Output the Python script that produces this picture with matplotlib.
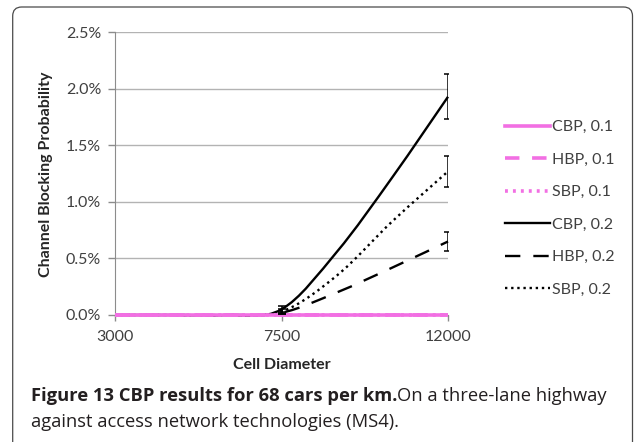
import numpy as np
import matplotlib
matplotlib.use('Agg')
import matplotlib.pyplot as plt
from matplotlib.path import Path
from matplotlib.patches import PathPatch, FancyBboxPatch
from matplotlib.lines import Line2D
from matplotlib.transforms import IdentityTransform

plt.rcParams['font.family'] = ['Lato', 'DejaVu Sans']

# blocking probability (%) against cell diameter
diameter = [3000, 4500, 6000, 7500, 9000, 10500, 12000]
cbp_01 = [0, 0, 0, 0, 0, 0, 0]
hbp_01 = [0, 0, 0, 0, 0, 0, 0]
sbp_01 = [0, 0, 0, 0, 0, 0, 0]
cbp_02 = [0, 0, 0, 0.05, 0.56, 1.22, 1.93]
hbp_02 = [0, 0, 0, 0.02, 0.20, 0.42, 0.65]
sbp_02 = [0, 0, 0, 0.03, 0.35, 0.83, 1.27]

# error bars on the 0.2 series
err_x = [7500, 12000]
cbp_02_err = [0.03, 0.20]
hbp_02_err = [0.01, 0.08]
sbp_02_err = [0.02, 0.14]

y_ticks = [0.0, 0.5, 1.0, 1.5, 2.0, 2.5]
x_ticks = [3000, 7500, 12000]

PINK = '#f26fe3'
GRID = '#b3b3b3'


def smooth_path(x, y):
    ''' Catmull-Rom style bezier through the points, like a smoothed line'''
    pts = np.column_stack([x, y]).astype(float)
    verts = [pts[0]]
    codes = [Path.MOVETO]
    for i in range(len(pts) - 1):
        p0 = pts[i - 1] if i > 0 else pts[i]
        p3 = pts[i + 2] if i + 2 < len(pts) else pts[i + 1]
        verts += [pts[i] + (pts[i + 1] - p0) / 6,
                  pts[i + 1] - (p3 - pts[i]) / 6,
                  pts[i + 1]]
        codes += [Path.CURVE4] * 3
    return Path(verts, codes)


fig = plt.figure(figsize=(6.34, 4.42), dpi=100)
ax = fig.add_axes([115 / 634, 1 - 315 / 442, 333 / 634, (315 - 32.3) / 442])

series = [
    ('CBP, 0.1', cbp_01, PINK, '-', 2.6),
    ('HBP, 0.1', hbp_01, PINK, (0, (4, 3.5)), 2.6),
    ('SBP, 0.1', sbp_01, PINK, (0, (0.8, 1.4)), 2.6),
    ('CBP, 0.2', cbp_02, 'black', '-', 1.7),
    ('HBP, 0.2', hbp_02, 'black', (0, (6.5, 5.5)), 1.7),
    ('SBP, 0.2', sbp_02, 'black', (0, (1, 1.6)), 1.7),
]

handles = []
for i, (lab, vals, col, ls, lw) in enumerate(series):
    z = 4 if col == PINK else 3
    if lab == 'CBP, 0.1':
        z = 5
    ax.add_patch(PathPatch(smooth_path(diameter, vals), fill=False, edgecolor=col,
                           linestyle=ls, linewidth=lw, zorder=z, clip_on=False,
                           capstyle='butt'))
    handles.append(Line2D([], [], color=col, linestyle=ls, linewidth=lw, label=lab))

for vals, err in [(cbp_02, cbp_02_err), (hbp_02, hbp_02_err), (sbp_02, sbp_02_err)]:
    yv = [vals[diameter.index(v)] for v in err_x]
    ax.errorbar(err_x, yv, yerr=err, fmt='none', ecolor='black', elinewidth=1.1,
                capsize=3, capthick=1.1, zorder=6)

ax.set_xlim(3000, 12000)
ax.set_ylim(0, 2.5)
ax.set_xticks(x_ticks)
ax.set_xticklabels([str(v) for v in x_ticks])
ax.set_yticks(y_ticks)
ax.set_yticklabels(['%.1f%%' % v for v in y_ticks])
ax.grid(axis='y', color=GRID, linewidth=1.0, zorder=0)
ax.set_axisbelow(True)
for s in ['top', 'right']:
    ax.spines[s].set_visible(False)
ax.spines['left'].set_color('#8c8c8c')
ax.spines['bottom'].set_color('#8c8c8c')
ax.tick_params(axis='y', length=5, width=1, color='#8c8c8c', pad=5,
               labelsize=11.5, labelcolor='#404040')
ax.tick_params(axis='x', length=4, width=1, color='#8c8c8c', pad=7,
               labelsize=11.5, labelcolor='#404040')

fig.text(46 / 634, 1 - 174 / 442, 'Channel Blocking Probability', rotation=90,
         ha='center', va='center', fontsize=11.5, weight='bold', color='#262626')
fig.text(281.5 / 634, 1 - 365 / 442, 'Cell Diameter', ha='center', va='center',
         fontsize=11.5, weight='bold', color='#262626')

ax.legend(handles=handles, loc='upper left', bbox_to_anchor=(497 / 634, 1 - 112 / 442),
          bbox_transform=fig.transFigure, frameon=False, fontsize=11.5,
          handlelength=2.8, handletextpad=0.12, labelspacing=1.15, borderpad=0,
          labelcolor='#404040')

# rounded frame round the figure, open at the bottom
fig.patches.append(FancyBboxPatch((12.7, -30), 632.5 - 12.7, 442 - 7 + 30,
                                  boxstyle='round,pad=0,rounding_size=9',
                                  transform=IdentityTransform(), fill=False,
                                  edgecolor='#4a4a4a', linewidth=0.9, figure=fig))

# caption, bold title followed by plain text
cap_font = ['Open Sans', 'DejaVu Sans']
size = 12
t1 = fig.text(30.7 / 634, 1 - 400.7 / 442, 'Figure 13 CBP results for 68 cars per km.',
              weight='bold', fontsize=size, va='baseline', family=cap_font, color='#231f20')
t2 = fig.text(0, 1 - 400.7 / 442, 'On a three-lane highway', fontsize=size,
              va='baseline', family=cap_font, color='#231f20')
t3 = fig.text(30.7 / 634, 1 - 426.7 / 442, 'against access network technologies (MS4).',
              fontsize=size, va='baseline', family=cap_font, color='#231f20')

r = fig.canvas.get_renderer()
w = t1.get_window_extent(r).width + t2.get_window_extent(r).width
size = size * 576 / w
for t in (t1, t2, t3):
    t.set_fontsize(size)
fig.canvas.draw()
bb = t1.get_window_extent(fig.canvas.get_renderer())
t2.set_x(bb.x1 / fig.bbox.width)

fig.savefig('out.png', dpi=100)
